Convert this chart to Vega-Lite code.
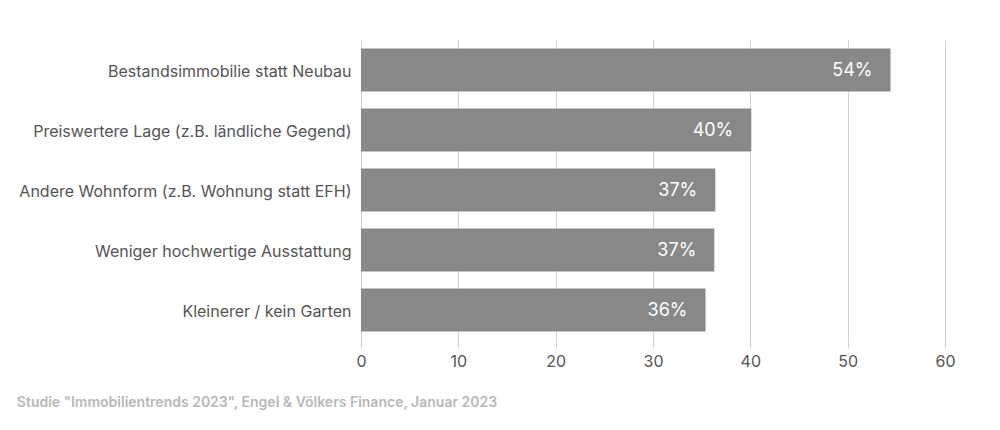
{
  "$schema": "https://vega.github.io/schema/vega-lite/v6.json",
  "width": 584,
  "height": 300,
  "autosize": {"type": "none"},
  "padding": {"left": 361, "top": 40, "right": 55, "bottom": 90},
  "background": "white",
  "config": {
    "view": {"stroke": null},
    "font": "Inter"
  },
  "title": {
    "text": "Studie \"Immobilientrends 2023\", Engel & Völkers Finance, Januar 2023",
    "orient": "bottom",
    "anchor": "start",
    "frame": "bounds",
    "fontSize": 14,
    "fontWeight": 600,
    "color": "#b8b8b8",
    "offset": 27,
    "dx": -2
  },
  "data": {
    "values": [
      {"kategorie": "Bestandsimmobilie statt Neubau", "wert": 54.4, "label": "54%"},
      {"kategorie": "Preiswertere Lage (z.B. ländliche Gegend)", "wert": 40.1, "label": "40%"},
      {"kategorie": "Andere Wohnform (z.B. Wohnung statt EFH)", "wert": 36.4, "label": "37%"},
      {"kategorie": "Weniger hochwertige Ausstattung", "wert": 36.3, "label": "37%"},
      {"kategorie": "Kleinerer / kein Garten", "wert": 35.4, "label": "36%"}
    ]
  },
  "encoding": {
    "y": {
      "field": "kategorie",
      "type": "nominal",
      "sort": null,
      "title": null,
      "scale": {"paddingInner": 0.28, "paddingOuter": 0.14},
      "axis": {
        "domain": false,
        "ticks": false,
        "labelFontSize": 16,
        "labelColor": "#555555",
        "labelPadding": 10,
        "labelOffset": 2,
        "labelLimit": 400
      }
    },
    "x": {
      "field": "wert",
      "type": "quantitative",
      "title": null,
      "scale": {"domain": [0, 60], "nice": false},
      "axis": {
        "values": [0, 10, 20, 30, 40, 50, 60],
        "domain": false,
        "grid": true,
        "gridColor": "#d0d0d0",
        "gridWidth": 1,
        "tickColor": "#d0d0d0",
        "tickSize": 8,
        "labelFlush": false,
        "labelFontSize": 16,
        "labelColor": "#555555",
        "labelPadding": 5
      }
    }
  },
  "layer": [
    {"mark": {"type": "bar", "color": "#888888"}},
    {
      "mark": {"type": "text", "align": "right", "baseline": "middle", "dx": -18, "dy": 1, "fontSize": 18, "color": "white"},
      "encoding": {"text": {"field": "label"}}
    }
  ]
}
